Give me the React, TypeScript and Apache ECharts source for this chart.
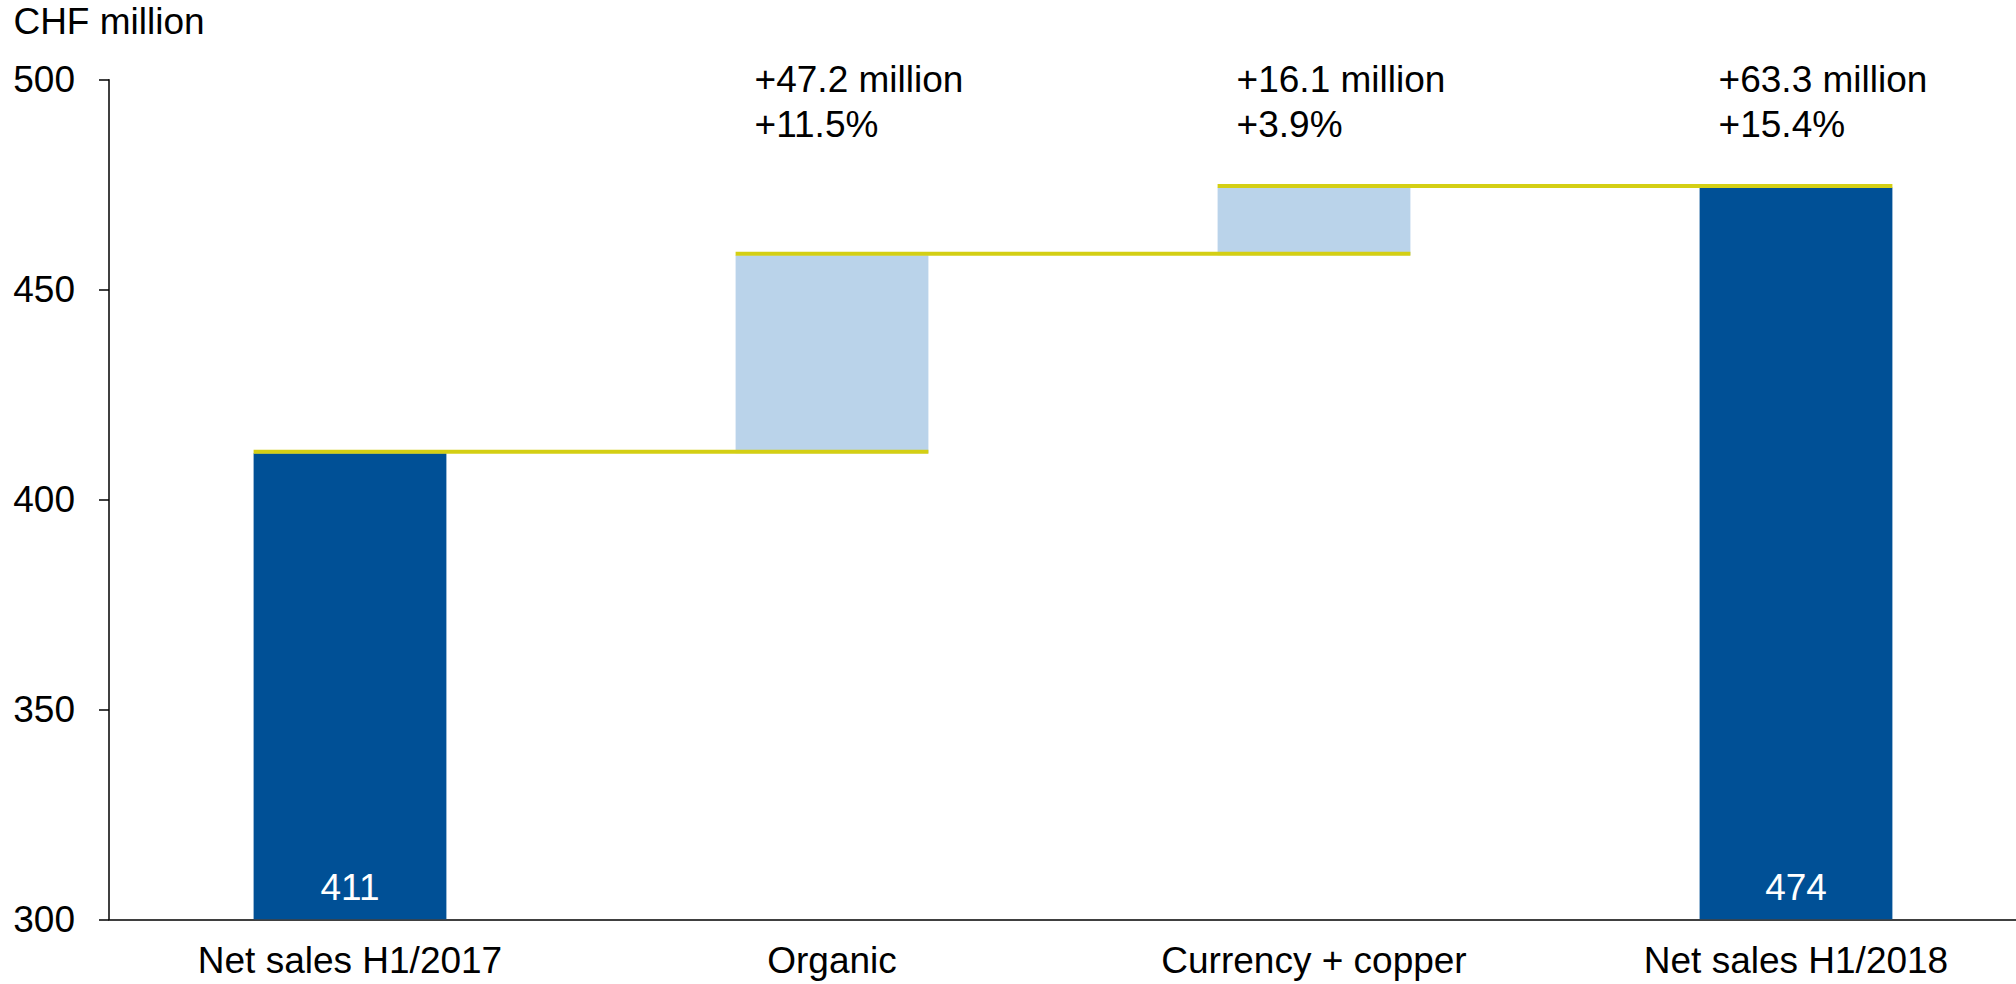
import React, { useEffect, useRef } from "react";
import * as echarts from "echarts";

const categories = ["Net sales H1/2017", "Organic", "Currency + copper", "Net sales H1/2018"];
const startValue = 411.0;
const changeValues = [47.2, 16.1];
const endValue = 474.3;
const totalLabels = ["411", "474"];
const annotationLabels = ["", "+47.2 million\n+11.5%", "+16.1 million\n+3.9%", "+63.3 million\n+15.4%"];
const yTicks = [300, 350, 400, 450, 500];

const FONT = "Liberation Sans, Arial, sans-serif";
const FS = 37;
const DARK = "#005096";
const LIGHT = "#BAD3EA";
const YELLOW = "#D4CF14";

export default function App() {
  const ref = useRef<HTMLDivElement>(null);
  useEffect(() => {
    if (!ref.current) return;
    const chart = echarts.init(ref.current, undefined, { renderer: "svg" });

    // waterfall computation
    const levels: number[] = [startValue];
    changeValues.forEach((c) => levels.push(+(levels[levels.length - 1] + c).toFixed(1)));
    const baseData = [0, ...levels.slice(0, changeValues.length), 0];
    const totalData: any[] = [startValue, ...changeValues.map(() => "-"), endValue];
    const changeData: any[] = ["-", ...changeValues, "-"];
    const totalLabelMap: Record<number, string> = { 0: totalLabels[0], [categories.length - 1]: totalLabels[1] };
    const connectorData = levels.map((lv, i) => [i, lv]);
    const annotationData = annotationLabels.map((t, i) => [i, yTicks[yTicks.length - 1]]);

    const BAR_FRAC = 0.4;

    chart.setOption({
      animation: false,
      grid: { left: 109, top: 79.7, height: 839.6, width: 1928 },
      xAxis: {
        type: "category",
        data: categories,
        axisLine: { lineStyle: { color: "#000", width: 1.5 } },
        axisTick: { show: false },
        axisLabel: { color: "#000", fontSize: FS, fontFamily: FONT, margin: 23 },
      },
      yAxis: {
        type: "value",
        min: yTicks[0],
        max: yTicks[yTicks.length - 1],
        interval: 50,
        name: "CHF million",
        nameLocation: "end",
        nameGap: 40,
        nameTextStyle: { color: "#000", fontSize: FS, fontFamily: FONT },
        splitLine: { show: false },
        axisLine: { show: true, lineStyle: { color: "#000", width: 1.5 } },
        axisTick: { show: true, length: 10, lineStyle: { color: "#000", width: 1.5 } },
        axisLabel: { color: "#000", fontSize: FS, fontFamily: FONT, margin: 34 },
      },
      series: [
        {
          type: "bar",
          stack: "w",
          data: baseData,
          itemStyle: { color: "transparent" },
          barWidth: "40%",
          silent: true,
        },
        {
          type: "bar",
          stack: "w",
          data: totalData,
          barWidth: "40%",
          itemStyle: { color: DARK },
          label: {
            show: true,
            position: "insideBottom",
            distance: 13,
            color: "#fff",
            fontSize: FS,
            fontFamily: FONT,
            formatter: (p: any) => totalLabelMap[p.dataIndex] ?? "",
          },
        },
        {
          type: "bar",
          stack: "w",
          data: changeData,
          barWidth: "40%",
          itemStyle: { color: LIGHT },
        },
        {
          type: "custom",
          data: connectorData,
          z: 10,
          renderItem: (params: any, api: any) => {
            const i = api.value(0);
            const lv = api.value(1);
            const band = api.size([1, 0])[0];
            const p1 = api.coord([i, lv]);
            const p2 = api.coord([i + 1, lv]);
            const half = (band * BAR_FRAC) / 2;
            return {
              type: "line",
              shape: { x1: p1[0] - half, y1: p1[1] - 1.5, x2: p2[0] + half, y2: p2[1] - 1.5 },
              style: { stroke: YELLOW, lineWidth: 4 },
            };
          },
        },
        {
          type: "custom",
          data: annotationData,
          z: 10,
          renderItem: (params: any, api: any) => {
            const i = api.value(0);
            const v = api.value(1);
            const t = annotationLabels[params.dataIndex];
            const band = api.size([1, 0])[0];
            const p = api.coord([i, v]);
            const half = (band * BAR_FRAC) / 2;
            return {
              type: "text",
              x: p[0] - half + 19,
              y: p[1] - 23,
              style: {
                text: t,
                fill: "#000",
                fontSize: FS,
                fontFamily: FONT,
                lineHeight: 45,
                align: "left",
                verticalAlign: "top",
              },
            };
          },
        },
      ],
    });
    return () => chart.dispose();
  }, []);
  return (
    <div
      ref={ref}
      style={{ position: "fixed", left: 0, top: 0, width: 2100, height: 984, background: "#fff" }}
    />
  );
}
